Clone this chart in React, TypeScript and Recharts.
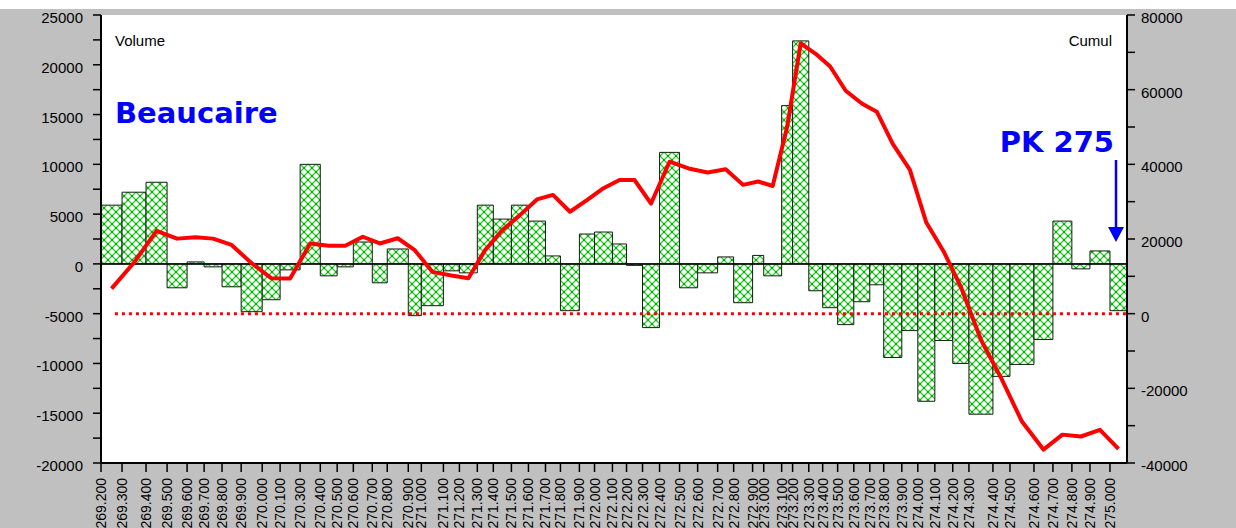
import { ComposedChart, Line, XAxis, YAxis, ReferenceArea, ReferenceLine, CartesianGrid } from 'recharts';

// bar boundaries along the river (km), left edge of each section + end of last one
const edges = [
  269.2, 269.321, 269.459, 269.58, 269.695, 269.793, 269.896, 270.006, 270.127, 270.23,
  270.345, 270.461, 270.558, 270.651, 270.76, 270.846, 270.967, 271.042, 271.169, 271.261,
  271.364, 271.456, 271.56, 271.658, 271.756, 271.842, 271.951, 272.038, 272.141, 272.222,
  272.314, 272.412, 272.527, 272.631, 272.746, 272.838, 272.947, 273.011, 273.114, 273.177,
  273.27, 273.35, 273.436, 273.529, 273.621, 273.701, 273.805, 273.897, 273.995, 274.098,
  274.191, 274.329, 274.427, 274.565, 274.674, 274.783, 274.887, 275.002, 275.1,
];

const pkLabels = [
  '269.200', '269.300', '269.400', '269.500', '269.600', '269.700', '269.800', '269.900',
  '270.000', '270.100', '270.300', '270.400', '270.500', '270.600', '270.700', '270.800', '270.900',
  '271.000', '271.100', '271.200', '271.300', '271.400', '271.500', '271.600', '271.700', '271.800', '271.900',
  '272.000', '272.100', '272.200', '272.300', '272.400', '272.500', '272.600', '272.700', '272.800', '272.900',
  '273.000', '273.100', '273.200', '273.300', '273.400', '273.500', '273.600', '273.700', '273.800', '273.900',
  '274.000', '274.100', '274.200', '274.300', '274.400', '274.500', '274.600', '274.700', '274.800', '274.900',
  '275.000',
];

const volumes = [
  5900, 7200, 8200, -2400, 200, -300, -2300, -4800, -3600, -600,
  10000, -1200, -300, 2200, -1900, 1500, -5200, -4200, -700, -900,
  5900, 4500, 5900, 4300, 800, -4700, 3000, 3200, 2000, -150,
  -6400, 11200, -2400, -900, 700, -3900, 850, -1200, 15900, 22400,
  -2700, -4400, -6100, -3800, -2100, -9400, -6700, -13800, -7700, -10000,
  -15100, -11300, -10100, -7600, 4300, -500, 1300, -4700,
];

const cumul = [
  6700, 13700, 22200, 20100, 20500, 20100, 18400, 13500, 9500, 9400,
  18800, 18200, 18200, 20600, 18800, 20200, 17000, 11200, 10200, 9500,
  17100, 22400, 26400, 30600, 31800, 27300, 30400, 33600, 35800, 35800,
  29500, 40700, 38900, 37800, 38700, 34500, 35400, 34200, 50000, 72400,
  69600, 66200, 59700, 56300, 54100, 45500, 38600, 24400, 16600, 7200,
  -7000, -17400, -28900, -36400, -32400, -32900, -31100, -36200,
];

const leftTicks = [
  -20000, -17500, -15000, -12500, -10000, -7500, -5000, -2500, 0,
  2500, 5000, 7500, 10000, 12500, 15000, 17500, 20000, 22500, 25000,
];
const rightTicks = [-40000, -30000, -20000, -10000, 0, 10000, 20000, 30000, 40000, 50000, 60000, 70000, 80000];

const rows = cumul.map((c, i) => ({ pos: (edges[i] + edges[i + 1]) / 2, cumul: c }));

const font = '"Liberation Sans", Arial, sans-serif';

function LeftTick({ x, y, payload }: any) {
  if (payload.value % 5000 !== 0) return <g />;
  return (
    <text x={x} y={y} dy={8} textAnchor="end" fontSize={15} fontFamily={font} fill="#000">
      {payload.value}
    </text>
  );
}

function RightTick({ x, y, payload }: any) {
  if (payload.value % 20000 !== 0) return <g />;
  return (
    <text x={x} y={y} dy={8} textAnchor="start" fontSize={15} fontFamily={font} fill="#000">
      {payload.value}
    </text>
  );
}

function PkTick({ x, y, payload, index }: any) {
  const i = edges.indexOf(payload.value);
  const label = pkLabels[i >= 0 ? i : index] ?? '';
  return (
    <text
      x={x}
      y={y}
      dy={5}
      textAnchor="end"
      fontSize={14}
      fontFamily={font}
      fill="#000"
      transform={`rotate(-90, ${x}, ${y})`}
    >
      {label}
    </text>
  );
}

export default function App() {
  return (
    <div style={{ position: 'absolute', left: 0, top: 0, width: 1236, height: 528, overflow: 'hidden' }}>
      <div style={{ position: 'absolute', left: 0, top: 9, width: 1236, height: 519, background: '#c0c0c0' }} />
      <div style={{ position: 'absolute', left: 0, top: 0 }}>
        <ComposedChart width={1236} height={528} data={rows} margin={{ top: 15, right: 0, bottom: 0, left: 0 }}>
          <defs>
            <pattern id="hatch" patternUnits="userSpaceOnUse" width={8} height={8}>
              <rect width={8} height={8} fill="#ffffff" />
              <path d="M0,0 L8,8 M8,0 L0,8" stroke="#2ecc2e" strokeWidth={1.3} />
              <rect x={3} y={3} width={2} height={2} fill="#00b000" />
              <rect x={-1} y={-1} width={2} height={2} fill="#00b000" />
              <rect x={7} y={-1} width={2} height={2} fill="#00b000" />
              <rect x={-1} y={7} width={2} height={2} fill="#00b000" />
              <rect x={7} y={7} width={2} height={2} fill="#00b000" />
            </pattern>
          </defs>
          <CartesianGrid yAxisId="left" horizontal={false} vertical={false} fill="#ffffff" stroke="none" />
          <XAxis
            dataKey="pos"
            type="number"
            domain={[269.2, 275.1]}
            ticks={edges.slice(0, pkLabels.length)}
            interval={0}
            height={65}
            tickSize={9}
            tickMargin={6}
            tick={<PkTick />}
            axisLine={{ stroke: '#000', strokeWidth: 2 }}
            tickLine={{ stroke: '#000', strokeWidth: 1.5 }}
            allowDataOverflow
          />
          <YAxis
            yAxisId="left"
            domain={[-20000, 25000]}
            ticks={leftTicks}
            interval={0}
            width={101}
            tickSize={8}
            tickMargin={10}
            tick={<LeftTick />}
            axisLine={{ stroke: '#000', strokeWidth: 2 }}
            tickLine={{ stroke: '#000', strokeWidth: 1.5 }}
            allowDataOverflow
          />
          <YAxis
            yAxisId="right"
            orientation="right"
            domain={[-40000, 80000]}
            ticks={rightTicks}
            interval={0}
            width={109}
            tickSize={8}
            tickMargin={6}
            tick={<RightTick />}
            axisLine={{ stroke: '#000', strokeWidth: 2 }}
            tickLine={{ stroke: '#000', strokeWidth: 1.5 }}
            allowDataOverflow
          />
          {volumes.map((v, i) => (
            <ReferenceArea
              key={i}
              yAxisId="left"
              x1={edges[i]}
              x2={edges[i + 1]}
              y1={0}
              y2={v}
              fill="url(#hatch)"
              fillOpacity={1}
              stroke="#1a1a1a"
              strokeWidth={1}
            />
          ))}
          <ReferenceLine yAxisId="left" y={0} stroke="#000" strokeWidth={1.5} />
          <ReferenceLine
            yAxisId="right"
            segment={[{ x: 269.28, y: 0 }, { x: 275.1, y: 0 }]}
            stroke="#ff0000"
            strokeWidth={3}
            strokeDasharray="3 4"
          />
          <Line
            yAxisId="right"
            dataKey="cumul"
            type="linear"
            stroke="#ff0000"
            strokeWidth={4}
            strokeLinejoin="round"
            dot={false}
            activeDot={false}
            isAnimationActive={false}
          />
        </ComposedChart>
      </div>
      <svg width={1236} height={528} style={{ position: 'absolute', left: 0, top: 0, pointerEvents: 'none' }}>
        <text x={115} y={46} fontSize={15} fontFamily={font} fill="#000">Volume</text>
        <text x={1112} y={46} fontSize={15} fontFamily={font} fill="#000" textAnchor="end">Cumul</text>
        <text x={115} y={123} fontSize={29} fontWeight="bold" fontFamily='"DejaVu Sans", Verdana, sans-serif' fill="#0000ff">
          Beaucaire
        </text>
        <text x={1114} y={152} fontSize={29} fontWeight="bold" fontFamily='"DejaVu Sans", Verdana, sans-serif' fill="#0000ff" textAnchor="end">
          PK 275
        </text>
        <line x1={1116} y1={160} x2={1116} y2={230} stroke="#0000ff" strokeWidth={2.5} />
        <path d="M1108,227 L1124,227 L1116,242 Z" fill="#0000ff" />
      </svg>
    </div>
  );
}
